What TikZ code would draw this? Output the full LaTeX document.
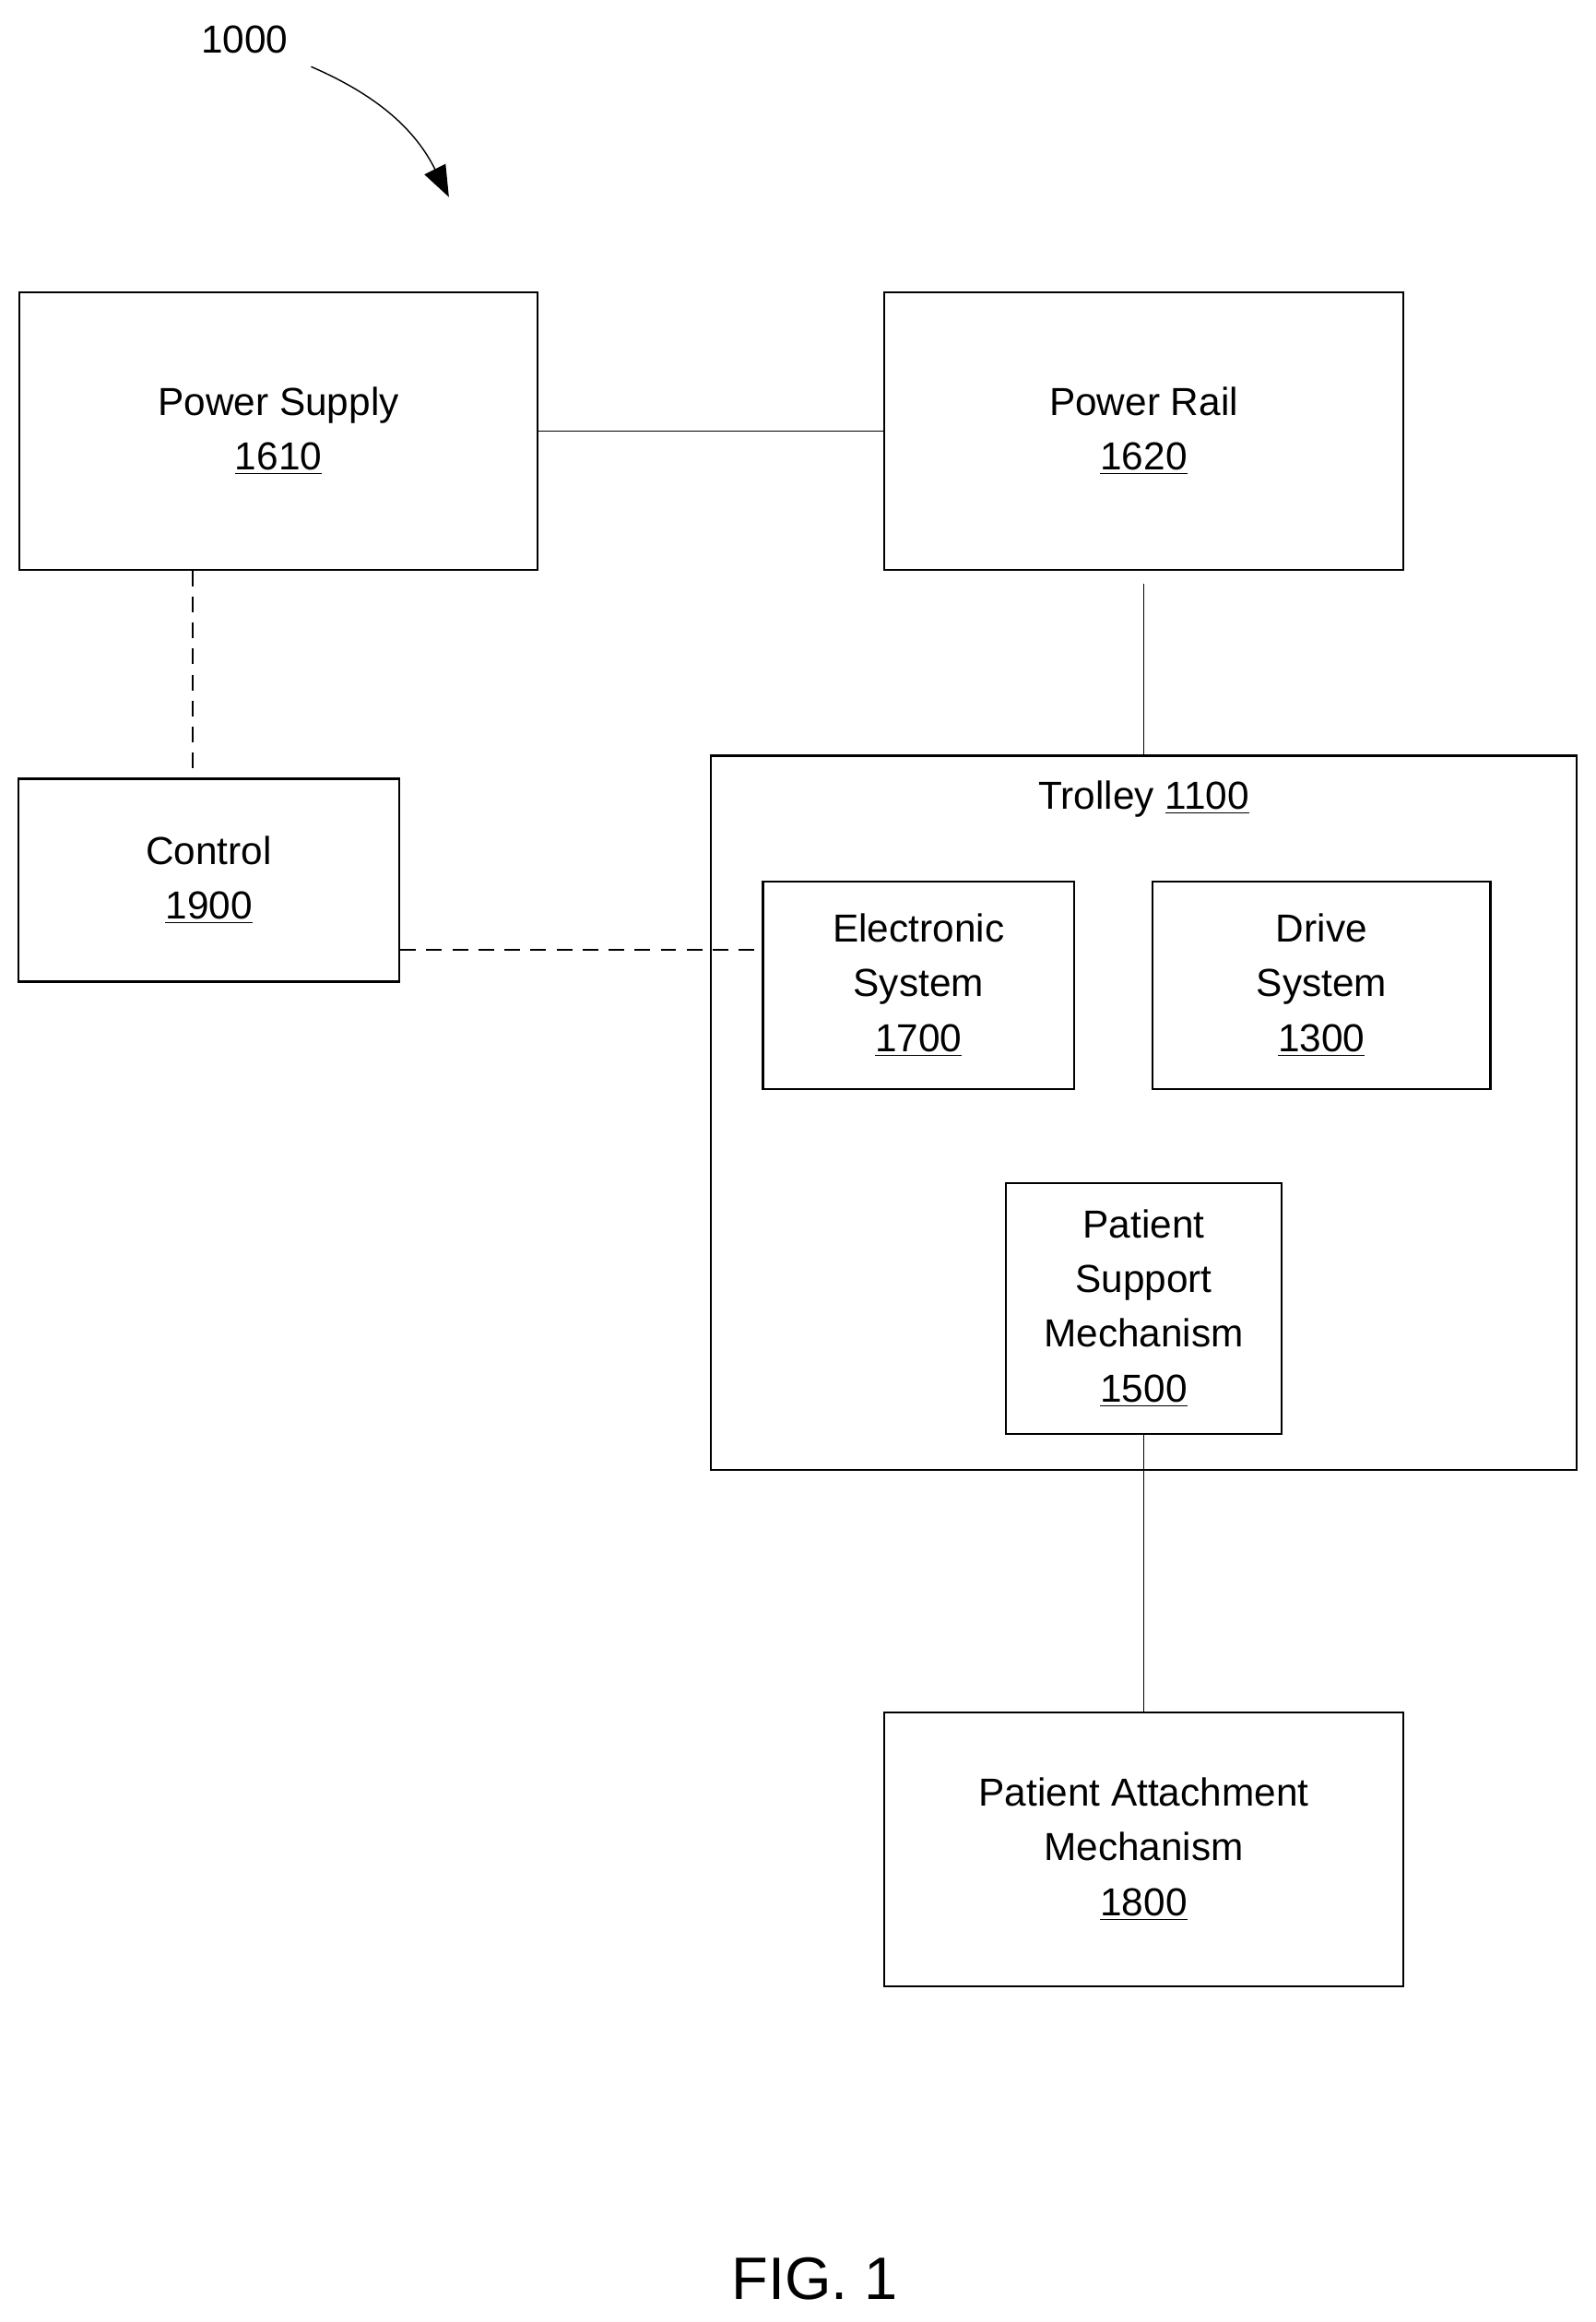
\documentclass[tikz,border=0pt]{standalone}
\usepackage{fontspec}
\setmainfont{Liberation Sans}
\usetikzlibrary{positioning,arrows.meta}

\begin{document}
\begin{tikzpicture}[x=0.02cm, y=-0.02cm, thick,
  box/.style={draw, align=center, font=\fontsize{15}{21}\selectfont, inner sep=0pt},
  link/.style={line width=0.5pt},
  dlink/.style={line width=0.5pt, dash pattern=on 6pt off 4pt}]

\useasboundingbox (0,0) rectangle (1077,1567);

% outer box
\node[box, minimum width=584*0.02cm, minimum height=482*0.02cm] (trolley) at (772,751) {};
\node[font=\fontsize{15}{21}\selectfont] (tlabel) at (772,539) {Trolley \underline{1100}};

\node[box, minimum width=350*0.02cm, minimum height=187*0.02cm] (supply) at (188,291) {Power Supply\\\underline{1610}};
\node[box, minimum width=350*0.02cm, minimum height=187*0.02cm] (rail) at (772,291) {Power Rail\\\underline{1620}};
\node[box, minimum width=257*0.02cm, minimum height=137*0.02cm] (control) at (141,594) {Control\\\underline{1900}};
\node[box, minimum width=210*0.02cm, minimum height=140*0.02cm] (elec) at (620,665) {Electronic\\System\\\underline{1700}};
\node[box, minimum width=228*0.02cm, minimum height=140*0.02cm] (drive) at (892,665) {Drive\\System\\\underline{1300}};
\node[box, minimum width=186*0.02cm, minimum height=169*0.02cm] (support) at (772,883) {Patient\\Support\\Mechanism\\\underline{1500}};
\node[box, minimum width=350*0.02cm, minimum height=185*0.02cm] (attach) at (772,1248) {Patient Attachment\\Mechanism\\\underline{1800}};

\coordinate (railgap) at (772,394);
\coordinate (psdash) at (130,385);

\draw[link] (supply) -- (rail);
\draw[link] (railgap) -- (trolley.north);
\draw[dlink] (psdash) -- (psdash |- control.north);
\draw[dlink] (control.east |- 0,641) -- (elec.west |- 0,641);
\draw[link] (support) -- (attach);

% figure number
\node[font=\fontsize{15}{21}\selectfont] (ref) at (165,27) {1000};
\coordinate (refend) at (303,133);
\draw[link, -{Triangle[length=12pt,width=9pt]}] (210,45) to[bend left=20] (refend);
\node[font=\fontsize{23}{28}\selectfont] (fig) at (550,1538) {FIG. 1};
\end{tikzpicture}
\end{document}
